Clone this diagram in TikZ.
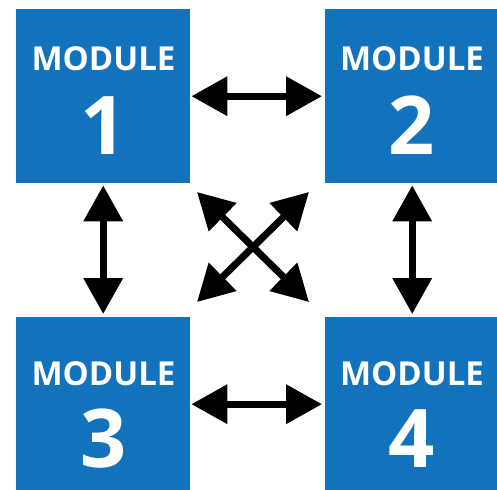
\documentclass[tikz,border=0pt]{standalone}
\usepackage{fontspec}
\setmainfont{Open Sans}
\usetikzlibrary{arrows.meta}
\definecolor{modblue}{RGB}{18,115,188}
\begin{document}
\begin{tikzpicture}[x=1pt,y=-1pt,
  modbox/.style={fill=modblue, draw=none, minimum width=174pt, minimum height=174pt, inner sep=0pt, anchor=north west},
  modlabel/.style={text=white, inner sep=0pt, anchor=base, font=\fontsize{33}{33}\selectfont\bfseries},
  modnum/.style={text=white, inner sep=0pt, anchor=base, font=\fontsize{81}{81}\selectfont\bfseries},
  link/.style={line width=7pt, {Triangle[length=36pt,width=38pt]}-{Triangle[length=36pt,width=38pt]}}]
\useasboundingbox (0,0) rectangle (497,489);
% the four module boxes
\node[modbox] (m1) at (16,9) {};
\node[modbox] (m2) at (325,9) {};
\node[modbox] (m3) at (16,317) {};
\node[modbox] (m4) at (325,317) {};
% captions
\node[modlabel] (t1) at (103.5,71) {MODULE};
\node[modnum]   (n1) at (103.5,154) {1};
\node[modlabel] (t2) at (412,71) {MODULE};
\node[modnum]   (n2) at (412,154) {2};
\node[modlabel] (t3) at (103.5,385) {MODULE};
\node[modnum]   (n3) at (103.5,467) {3};
\node[modlabel] (t4) at (412,385) {MODULE};
\node[modnum]   (n4) at (412,467) {4};
% ends of the diagonal links
\coordinate (d1) at (197,192);
\coordinate (d2) at (309,192);
\coordinate (d3) at (197,302);
\coordinate (d4) at (309,302);
% links between modules
\draw[link, shorten <=1pt, shorten >=3pt] (m1.east) -- (m2.west);
\draw[link, shorten <=1pt, shorten >=3pt] (m3.east) -- (m4.west);
\draw[link, shorten <=2pt, shorten >=3pt] (m1.south) -- (m3.north);
\draw[link, shorten <=2pt, shorten >=3pt] (m2.south) -- (m4.north);
\draw[link] (d1) -- (d4);
\draw[link] (d2) -- (d3);
\end{tikzpicture}
\end{document}
